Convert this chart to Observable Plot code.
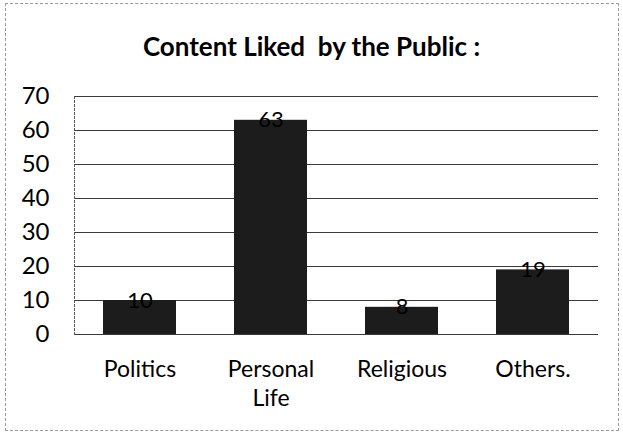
<!DOCTYPE html>
<html>
<head>
<meta charset="utf-8">
<script src="https://cdn.jsdelivr.net/npm/d3@7"></script>
<script src="https://cdn.jsdelivr.net/npm/@observablehq/plot@0.6"></script>
<style>
  html, body { margin: 0; padding: 0; background: #fff; }
  #wrap { position: relative; width: 623px; height: 437px; overflow: hidden; }
  #frame { position: absolute; left: 5px; top: 3px; width: 614px; height: 428px;
           border: 1px dashed #9a9a9a; box-sizing: border-box; }
  #title { position: absolute; left: 0; top: 30px; width: 623px; text-align: center;
           font: bold 26px Lato, "Open Sans", sans-serif; color: #000; line-height: 32px; }
  #chart { position: absolute; left: 0; top: 70px; }
</style>
</head>
<body>
<div id="wrap">
  <div id="frame"></div>
  <div id="title">Content Liked&nbsp; by the Public :</div>
  <div id="chart"></div>
</div>
<script>
// Categories and the count of respondents liking each kind of content
const categories = ["Politics", "Personal Life", "Religious", "Others."];
const values = [10, 63, 8, 19];
const yTicks = [0, 10, 20, 30, 40, 50, 60, 70];

const rows = categories.map((c, i) => ({category: c, value: values[i]}));

const chart = Plot.plot({
  width: 623,
  height: 367,
  marginLeft: 74,
  marginRight: 25,
  marginTop: 26,
  marginBottom: 103,
  style: {fontFamily: "Lato, 'Open Sans', sans-serif", color: "#000", background: "transparent"},
  x: {domain: categories, paddingInner: 0.44, paddingOuter: 0.22, label: null},
  y: {domain: [0, 70], label: null},
  marks: [
    // horizontal gridlines at every ten
    Plot.ruleY(yTicks, {stroke: "#3a3a3a", strokeWidth: 1}),
    // dotted left edge of the plot area
    Plot.frame({anchor: "left", stroke: "#555", strokeDasharray: "2,2"}),
    Plot.barY(rows, {x: "category", y: "value", fill: "#1c1c1c"}),
    Plot.text(rows, {x: "category", y: "value", text: d => String(d.value),
      fontSize: 22, fill: "#000"}),
    Plot.axisY(yTicks, {tickSize: 0, tickPadding: 25, fontSize: 24, label: null}),
    Plot.axisX({tickSize: 0, tickPadding: 22, fontSize: 23, lineHeight: 1.25,
      tickFormat: d => d.replace(" ", "\n"), label: null})
  ]
});
document.getElementById("chart").appendChild(chart);
</script>
</body>
</html>
